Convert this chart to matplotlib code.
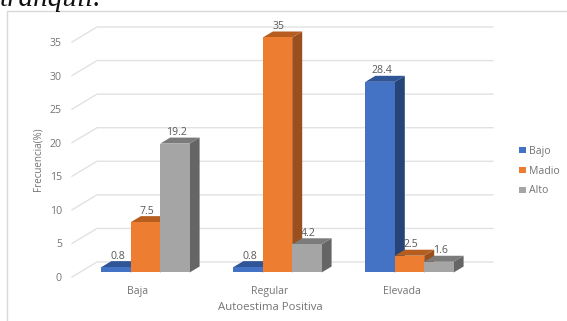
import matplotlib
matplotlib.use('Agg')
import matplotlib.pyplot as plt
from matplotlib.patches import Polygon, Patch
from matplotlib.lines import Line2D

plt.rcParams['font.family'] = ['Open Sans', 'DejaVu Sans']

categorias = ['Baja', 'Regular', 'Elevada']
bajo = [0.8, 0.8, 28.4]
madio = [7.5, 35, 2.5]
alto = [19.2, 4.2, 1.6]
series = ['Bajo', 'Madio', 'Alto']
yticks = [0, 5, 10, 15, 20, 25, 30, 35]

# colores: frente, tapa, lateral
colores = {
    'Bajo': ('#4472C4', '#2F5597', '#264478'),
    'Madio': ('#ED7D31', '#B55E20', '#9A4F1C'),
    'Alto': ('#A5A5A5', '#7B7B7B', '#656565'),
}

W, H = 567, 321
fig = plt.figure(figsize=(W / 100, H / 100), dpi=100)
ax = fig.add_axes([72 / W, (H - 277) / H, 396 / W, 235 / H])
ax.set_xlim(-0.5, 2.5)
ax.set_ylim(0, 35)
ax.patch.set_alpha(0)
for s in ax.spines.values():
    s.set_visible(False)

# proyeccion oblicua del suelo del grafico
prof_x = 25 / 132
prof_y = 15 / 6.714
ancho = 29.4 / 132


def proy(x, y, z):
    return x + z * prof_x, y + z * prof_y


# rejilla: pared lateral y pared del fondo
for v in yticks:
    p1 = proy(-0.5, v, 0)
    p2 = proy(-0.5, v, 1)
    p3 = proy(2.5, v, 1)
    ax.plot([p1[0], p2[0], p3[0]], [p1[1], p2[1], p3[1]], color='#E2E2E2', lw=1.0,
            clip_on=False, zorder=1, solid_joinstyle='miter')


def barra(x0, x1, v, cols):
    z0, z1 = 0.3, 0.7
    frente = [proy(x0, 0, z0), proy(x1, 0, z0), proy(x1, v, z0), proy(x0, v, z0)]
    tapa = [proy(x0, v, z0), proy(x1, v, z0), proy(x1, v, z1), proy(x0, v, z1)]
    lado = [proy(x1, 0, z0), proy(x1, 0, z1), proy(x1, v, z1), proy(x1, v, z0)]
    for pts, c in ((lado, cols[2]), (tapa, cols[1]), (frente, cols[0])):
        ax.add_patch(Polygon(pts, closed=True, facecolor=c, edgecolor='none',
                             clip_on=False, zorder=2))


for i in range(len(categorias)):
    for j, (nombre, vals) in enumerate(zip(series, [bajo, madio, alto])):
        x0 = i + (j - 1.5) * ancho
        v = vals[i]
        barra(x0, x0 + ancho, v, colores[nombre])
        cx, cy = proy(x0 + ancho / 2, v, 0.3)
        ax.annotate(f'{v:g}', (cx, cy), xytext=(1, 7.9), textcoords='offset points',
                    ha='center', va='center', fontsize=7.6, color='#595959', zorder=5,
                    annotation_clip=False)

ax.set_yticks(yticks)
ax.set_xticks(range(len(categorias)))
ax.set_xticklabels(categorias)
ax.tick_params(axis='both', length=0, labelsize=7.6, labelcolor='#747474')
ax.tick_params(axis='y', pad=7.2)
ax.tick_params(axis='x', pad=6.5)
ax.set_xlabel('Autoestima Positiva', fontsize=8.2, color='#747474')
ax.xaxis.set_label_coords(0.5, -(307 - 277) / 235, transform=ax.transAxes)
ax.xaxis.label.set_va('center')
ax.set_ylabel('Frecuencia(%)', fontsize=7.1, color='#747474')
ax.yaxis.set_label_coords((38 - 72) / 396, (277 - 159.5) / 235)
ax.yaxis.label.set_va('center')

handles = [Patch(facecolor=colores[n][0], edgecolor='none', label=n) for n in series]
leg = fig.legend(handles=handles, loc='center left', bbox_to_anchor=(519 / W, (H - 171) / H),
                 frameon=False, fontsize=7.6, labelcolor='#747474', handlelength=0.68,
                 handleheight=0.5, handletextpad=0.3, labelspacing=0.85,
                 borderpad=0, borderaxespad=0)

# marco del grafico y texto del documento cortado arriba
fig.add_artist(Line2D([7 / W, 7 / W, 1], [0, (H - 11) / H, (H - 11) / H], color='#D9D9D9', lw=1.0))
fig.text(0 / W, (H - 6) / H, 'tranquil.', family=['Liberation Serif'], style='italic',
         fontsize=21, color='#111111', va='baseline', ha='left')

fig.savefig('out.png', dpi=100)
